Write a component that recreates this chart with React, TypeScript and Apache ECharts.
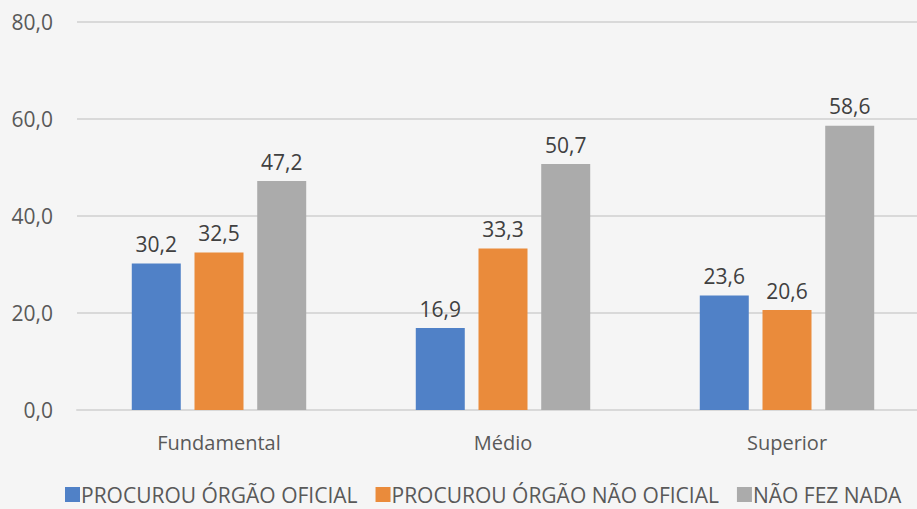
import React, { useEffect, useRef } from "react";
import * as echarts from "echarts";

const categories = ["Fundamental", "Médio", "Superior"];
const seriesNames = ["PROCUROU ÓRGÃO OFICIAL", "PROCUROU ÓRGÃO NÃO OFICIAL", "NÃO FEZ NADA"];
const oficial = [30.2, 16.9, 23.6];
const naoOficial = [32.5, 33.3, 20.6];
const nada = [47.2, 50.7, 58.6];
const yTicks = [0, 20, 40, 60, 80];

const colors = ["#5081C7", "#EA8B3B", "#ABABAB"];
const FONT = "'Open Sans', sans-serif";
const fmt = (v: number) => v.toFixed(1).replace(".", ",");

export default function App() {
  const ref = useRef<HTMLDivElement>(null);
  useEffect(() => {
    if (!ref.current) return;
    const chart = echarts.init(ref.current, undefined, { renderer: "svg" });
    const data = [oficial, naoOficial, nada];
    chart.setOption({
      animation: false,
      backgroundColor: "#F5F5F5",
      textStyle: { fontFamily: FONT },
      grid: { left: 77, right: 0, top: 22, bottom: 99, containLabel: false },
      legend: {
        bottom: -1,
        left: 60,
        itemWidth: 15,
        itemHeight: 15,
        itemGap: 18,
        icon: "rect",
        textStyle: { fontFamily: FONT, fontSize: 21, color: "#595959", padding: [0, 0, 0, -4] },
        data: seriesNames,
      },
      xAxis: {
        type: "category",
        data: categories,
        axisLine: { lineStyle: { color: "#D9D9D9", width: 2 } },
        axisTick: { show: false },
        axisLabel: { color: "#595959", fontSize: 20, margin: 22, fontFamily: FONT },
      },
      yAxis: {
        type: "value",
        min: yTicks[0],
        max: yTicks[yTicks.length - 1],
        interval: 20,
        axisLine: { show: false },
        axisTick: { show: false },
        splitLine: { lineStyle: { color: "#D9D9D9", width: 2 } },
        axisLabel: { color: "#595959", fontSize: 21, margin: 24, fontFamily: FONT, formatter: (v: number) => fmt(v) },
      },
      series: seriesNames.map((name, i) => ({
        name,
        type: "bar",
        data: data[i],
        barWidth: 49,
        barGap: "28%",
        itemStyle: { color: colors[i] },
        label: {
          show: true,
          position: "top",
          distance: 9,
          color: "#404040",
          fontSize: 21,
          fontFamily: FONT,
          formatter: (p: any) => fmt(p.value),
        },
      })),
    });
    return () => chart.dispose();
  }, []);
  return <div ref={ref} style={{ position: "fixed", left: 0, top: 0, width: 929, height: 509 }} />;
}
